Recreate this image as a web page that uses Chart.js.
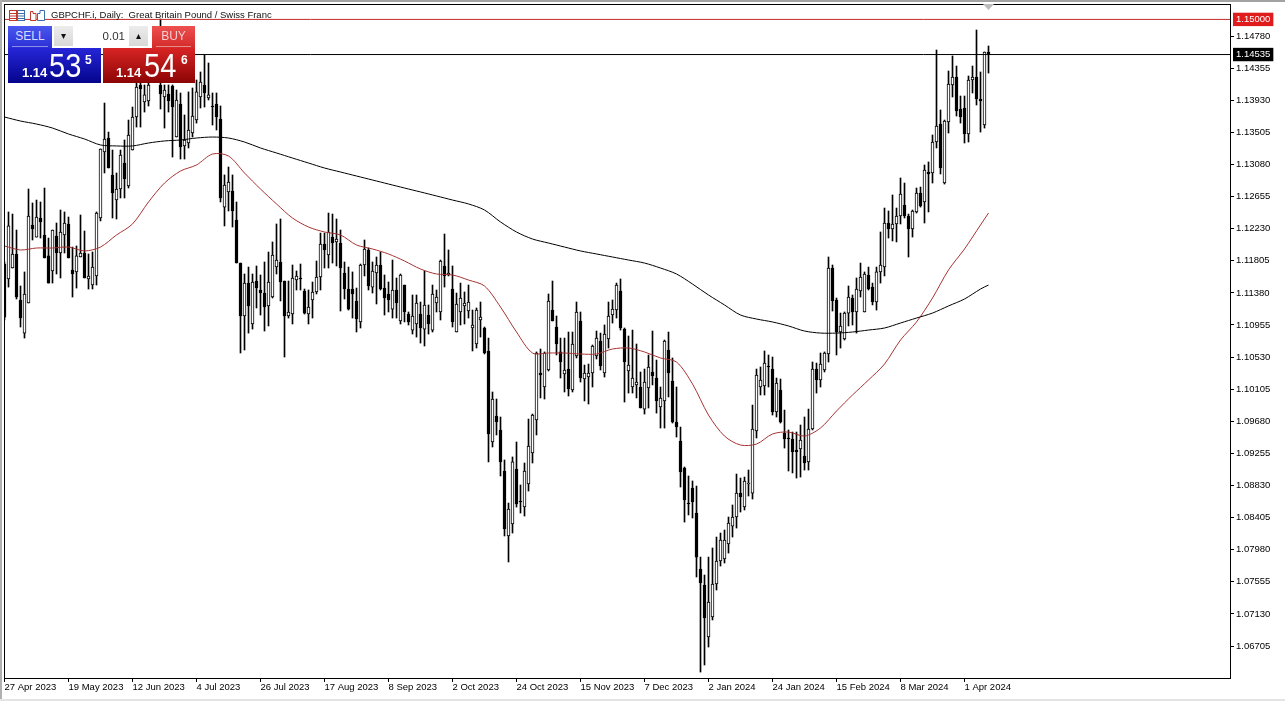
<!DOCTYPE html>
<html>
<head>
<meta charset="utf-8">
<title>GBPCHF Daily</title>
<script src="https://cdn.jsdelivr.net/npm/chart.js@4/dist/chart.umd.js"></script>
<style>
  html, body { margin: 0; padding: 0; background: #fff; overflow: hidden; }
  #wrap { position: relative; width: 1285px; height: 701px; font-family: "Liberation Sans", Arial, sans-serif; }
  canvas { position: absolute; left: 0; top: 0; }
  .abs { position: absolute; }
  #frameTop { left: 0; top: 0; width: 1285px; height: 2px; background: #a3a3a3; }
  #frameLeft { left: 0; top: 0; width: 2px; height: 701px; background: #b0b0b0; }
  #frameBottom { left: 0; top: 699px; width: 1285px; height: 2px; background: #e4e4e4; }
  #title { left: 51px; top: 9px; font-size: 9.5px; line-height: 12px; color: #111; white-space: pre; }
  .btn { top: 26px; height: 22px; color: #f2d0d0; font-size: 12px; line-height: 21px; text-align: center; }
  .btn i { position: absolute; left: 4px; right: 4px; bottom: 1px; height: 1px; background: rgba(255,255,255,0.45); }
  #sell { left: 8px; width: 44px; background: linear-gradient(#4a58ee, #2a2fd6); color: #d8dcff; }
  #buy { left: 152px; width: 43px; background: linear-gradient(#ee5050, #d42a2a); }
  .step { top: 26px; width: 19px; height: 20px; background: linear-gradient(#ececec, #d8d8d8); color: #111; font-size: 10px; line-height: 19px; text-align: center; }
  #lot { left: 73px; top: 26px; width: 52px; height: 20px; padding-right: 4px; background: #fff; color: #333; font-size: 11.5px; line-height: 20px; text-align: right; }
  .quote { top: 48px; height: 35px; color: #fff; }
  #quoteSell { left: 8px; width: 93px; background: linear-gradient(#2626d8, #04048c); }
  #quoteBuy { left: 103px; width: 92px; background: linear-gradient(#d82424, #8c0404); }
  .small { top: 17px; font-size: 13px; line-height: 15px; font-weight: bold; }
  .big { top: 1px; font-size: 33px; line-height: 34px; transform: scaleX(0.88); transform-origin: left top; }
  .sup { top: 6px; font-size: 12px; line-height: 13px; font-weight: bold; }
</style>
</head>
<body>
<div id="wrap">
  <canvas id="priceChart" width="1285" height="701"></canvas>
  <div class="abs" id="frameTop"></div>
  <div class="abs" id="frameLeft"></div>
  <div class="abs" id="frameBottom"></div>

  <!-- header icons and symbol title -->
  <svg class="abs" style="left:9px;top:10px" width="37" height="12">
    <rect x="0.5" y="0.5" width="7" height="10" fill="#fff" stroke="#c0392b"/>
    <rect x="8.5" y="0.5" width="7" height="10" fill="#fff" stroke="#3b6ea8"/>
    <path d="M1 3.5h6M1 6h6M1 8.5h6" stroke="#c0392b"/><path d="M9 3.5h6M9 6h6M9 8.5h6" stroke="#3b6ea8"/>
    <path d="M21.5 1.5h2.5v2h3v7h-5.5z" fill="#fff" stroke="#c0392b"/>
    <path d="M28.5 3.5h2.5v-3h4.5v10h-7z" fill="#fff" stroke="#3b6ea8"/>
  </svg>
  <div class="abs" id="title">GBPCHF.i, Daily:  Great Britain Pound / Swiss Franc</div>

  <!-- grey marker at the top edge -->
  <svg class="abs" style="left:983px;top:4px" width="11" height="6"><path d="M0 0h11L5.5 6z" fill="#bdbdbd"/></svg>

  <!-- one click trading panel -->
  <div class="abs btn" id="sell">SELL<i></i></div>
  <div class="abs step" style="left:54px">&#9662;</div>
  <div class="abs" id="lot">0.01</div>
  <div class="abs step" style="left:129px">&#9652;</div>
  <div class="abs btn" id="buy">BUY<i></i></div>
  <div class="abs quote" id="quoteSell">
    <span class="abs small" style="left:14px">1.14</span>
    <span class="abs big" style="left:41px">53</span>
    <span class="abs sup" style="left:77px">5</span>
  </div>
  <div class="abs quote" id="quoteBuy">
    <span class="abs small" style="left:13px">1.14</span>
    <span class="abs big" style="left:41px">54</span>
    <span class="abs sup" style="left:78px">6</span>
  </div>
</div>

<script>
// Daily candles, one entry per bar, oldest first
const opens = [
  1.11762,1.11564,1.11709,1.11895,1.11286,1.10848,1.11246,1.12279,1.12119,1.12371,
  1.12146,1.11869,1.11670,1.12133,1.11908,1.12146,1.12292,1.11683,1.11657,1.11855,
  1.11908,1.11564,1.11484,1.11604,1.12371,1.13245,1.13430,1.12941,1.12609,1.12755,
  1.13099,1.12795,1.13271,1.13708,1.14132,1.13907,1.13920,1.14264,1.14437,1.14132,
  1.13973,1.14013,1.14119,1.13443,1.13880,1.13325,1.13364,1.13496,1.13668,1.13973,
  1.14132,1.13960,1.13854,1.13880,1.13682,1.12516,1.12716,1.12729,1.12345,1.11775,
  1.11074,1.11510,1.10968,1.11537,1.11418,1.11378,1.11207,1.11325,1.11722,1.11789,
  1.11537,1.11074,1.11100,1.11550,1.11577,1.11405,1.11100,1.11286,1.11392,1.11590,
  1.12027,1.11882,1.12119,1.12054,1.12040,1.11643,1.11431,1.11431,1.11273,1.10995,
  1.11749,1.11948,1.11457,1.11643,1.11749,1.11444,1.11365,1.11166,1.11418,1.11008,
  1.11484,1.11100,1.10888,1.10968,1.11100,1.10901,1.11087,1.10888,1.11246,1.11127,
  1.11736,1.11617,1.11431,1.10862,1.11127,1.11207,1.11140,1.10915,1.10703,1.11021,
  1.10915,1.10611,1.09406,1.09750,1.09565,1.09022,1.08162,1.08320,1.09049,1.08625,
  1.08545,1.08850,1.09260,1.09697,1.10319,1.10134,1.10359,1.11153,1.10928,1.10598,
  1.10306,1.10372,1.10094,1.10545,1.11008,1.10240,1.10266,1.10319,1.10545,1.10743,
  1.10319,1.10769,1.11087,1.11153,1.11405,1.10901,1.10346,1.10134,1.10161,1.10134,
  1.09842,1.10121,1.10333,1.10253,1.09869,1.09949,1.10624,1.10214,1.09671,1.09419,
  1.09062,1.08598,1.08797,1.08466,1.07725,1.07513,1.06825,1.07089,1.07526,1.07831,
  1.07857,1.08056,1.08293,1.08413,1.08730,1.08545,1.08850,1.08730,1.09552,1.10134,
  1.10148,1.10412,1.10372,1.09803,1.10094,1.09525,1.09459,1.09446,1.09300,1.09313,
  1.09221,1.09142,1.09578,1.10372,1.10227,1.10359,1.10571,1.11709,1.11286,1.10862,
  1.10769,1.11113,1.11312,1.11127,1.11405,1.11127,1.11617,1.11457,1.11259,1.11657,
  1.11722,1.12305,1.12226,1.12292,1.12398,1.12543,1.12398,1.12226,1.12451,1.12702,
  1.12583,1.12980,1.12967,1.13377,1.13615,1.12834,1.13642,1.14132,1.14237,1.13814,
  1.13827,1.13483,1.14198,1.14237,1.13946,1.13602,1.14569
];
const highs = [
  1.11789,1.12451,1.12424,1.12212,1.11471,1.11657,1.12755,1.12570,1.12609,1.12583,
  1.12768,1.12106,1.12212,1.12305,1.12477,1.12451,1.12384,1.11987,1.12001,1.12411,
  1.12199,1.11895,1.11921,1.12451,1.13285,1.13893,1.13509,1.13271,1.12967,1.13271,
  1.13404,1.13668,1.13840,1.14304,1.14330,1.14132,1.14264,1.14489,1.14529,1.15005,
  1.14132,1.14132,1.14132,1.14066,1.14026,1.13735,1.14040,1.14092,1.14198,1.14304,
  1.14529,1.14423,1.14026,1.14026,1.13854,1.12941,1.13046,1.12941,1.12583,1.11775,
  1.11630,1.11722,1.11630,1.11736,1.11617,1.11789,1.11921,1.12054,1.12292,1.12358,
  1.11537,1.11537,1.11749,1.11670,1.11762,1.11431,1.11418,1.11524,1.11802,1.12172,
  1.12172,1.12437,1.12424,1.12358,1.12212,1.11789,1.11722,1.11657,1.11444,1.11762,
  1.12080,1.11974,1.11789,1.11855,1.11921,1.11617,1.11524,1.11815,1.11577,1.11630,
  1.11484,1.11127,1.11352,1.11352,1.11259,1.11670,1.11220,1.11484,1.11418,1.11815,
  1.12159,1.11948,1.11736,1.11378,1.11510,1.11392,1.11484,1.11153,1.11180,1.11259,
  1.10928,1.10782,1.10068,1.09975,1.09737,1.09168,1.08598,1.09208,1.09406,1.08837,
  1.09128,1.09710,1.09776,1.10598,1.10637,1.10598,1.11365,1.11537,1.11074,1.10782,
  1.10782,1.10862,1.10862,1.11259,1.11127,1.10425,1.10438,1.10690,1.10875,1.10848,
  1.10955,1.11259,1.11286,1.11510,1.11564,1.10915,1.10809,1.10888,1.10703,1.10333,
  1.10372,1.10558,1.10875,1.10491,1.10134,1.10756,1.10862,1.10518,1.10134,1.09604,
  1.09075,1.08956,1.08890,1.08823,1.07883,1.07645,1.07883,1.08003,1.08148,1.08201,
  1.08241,1.08413,1.08572,1.08982,1.08929,1.08942,1.09035,1.09895,1.10372,1.10399,
  1.10611,1.10558,1.10531,1.10253,1.10240,1.09829,1.09565,1.09538,1.09538,1.09631,
  1.09737,1.09842,1.10465,1.10451,1.10584,1.10598,1.11855,1.11749,1.11312,1.11113,
  1.11127,1.11471,1.11352,1.11577,1.11775,1.11657,1.11722,1.11510,1.11722,1.12186,
  1.12503,1.12464,1.12676,1.12503,1.12901,1.12834,1.12424,1.12477,1.12768,1.12781,
  1.13073,1.13113,1.13470,1.14595,1.13801,1.13668,1.14317,1.14516,1.14383,1.13986,
  1.13986,1.14251,1.14383,1.14860,1.14304,1.14569,1.14648
];
const lows = [
  1.11021,1.11457,1.11709,1.11299,1.10928,1.10782,1.11246,1.12080,1.12119,1.12106,
  1.11842,1.11510,1.11510,1.11630,1.11577,1.11908,1.11842,1.11325,1.11444,1.11855,
  1.11577,1.11431,1.11431,1.11484,1.12332,1.12967,1.13033,1.12371,1.12358,1.12636,
  1.12636,1.12768,1.13271,1.13575,1.13575,1.13774,1.13854,1.14172,1.14198,1.13814,
  1.13562,1.13774,1.13178,1.13443,1.13152,1.13152,1.13298,1.13443,1.13628,1.13827,
  1.13840,1.13933,1.13602,1.13536,1.12583,1.12266,1.12464,1.12252,1.11775,1.10584,
  1.10624,1.10848,1.10901,1.11180,1.11087,1.10875,1.10942,1.11312,1.11630,1.11273,
  1.10531,1.11047,1.10968,1.11418,1.11418,1.11100,1.10968,1.11047,1.11365,1.11418,
  1.11709,1.11709,1.11775,1.11736,1.11140,1.11299,1.11153,1.11047,1.10862,1.10915,
  1.11604,1.11418,1.11378,1.11233,1.11418,1.11087,1.11127,1.11047,1.11047,1.10968,
  1.10995,1.10955,1.10835,1.10795,1.10716,1.10677,1.10835,1.10862,1.11127,1.11021,
  1.11457,1.11604,1.10928,1.10862,1.10955,1.10968,1.11047,1.10611,1.10650,1.10795,
  1.10571,1.09142,1.09340,1.09499,1.08956,1.08162,1.07818,1.08201,1.08545,1.08466,
  1.08426,1.08757,1.09128,1.09499,1.09989,1.09975,1.10346,1.11008,1.10558,1.10253,
  1.10068,1.10015,1.10068,1.10518,1.10200,1.09949,1.09909,1.10134,1.10505,1.10359,
  1.10266,1.10650,1.10981,1.11047,1.10888,1.09935,1.10054,1.10054,1.09989,1.09856,
  1.09776,1.09856,1.10161,1.09789,1.09591,1.09591,1.10002,1.09657,1.09472,1.08810,
  1.08346,1.08440,1.08400,1.07619,1.06361,1.06454,1.06692,1.07050,1.07447,1.07764,
  1.07804,1.07936,1.08148,1.08267,1.08479,1.08506,1.08691,1.08651,1.09459,1.10028,
  1.10028,1.10134,1.09763,1.09737,1.09657,1.09326,1.09022,1.08996,1.08929,1.08942,
  1.09035,1.09035,1.09565,1.10054,1.10134,1.10333,1.10465,1.11140,1.10558,1.10650,
  1.10756,1.10942,1.10955,1.10848,1.11325,1.11127,1.11418,1.11220,1.11153,1.11510,
  1.11604,1.12106,1.12067,1.12054,1.12292,1.12371,1.11855,1.12119,1.12437,1.12516,
  1.12305,1.12451,1.12834,1.13298,1.12954,1.12821,1.13496,1.13973,1.13721,1.13628,
  1.13364,1.13377,1.14026,1.13867,1.13509,1.13562,1.14290
];
const closes = [
  1.11060,1.12266,1.11895,1.11325,1.11047,1.11365,1.12398,1.12226,1.12384,1.12319,
  1.11842,1.11510,1.12212,1.11908,1.12186,1.12305,1.11842,1.11630,1.11869,1.11908,
  1.11577,1.11604,1.11722,1.12437,1.13285,1.13417,1.13033,1.12702,1.12755,1.13205,
  1.12887,1.13470,1.13708,1.14105,1.14079,1.14000,1.14132,1.14397,1.14304,1.14013,
  1.14066,1.13920,1.13840,1.13933,1.13311,1.13404,1.13536,1.13721,1.14040,1.14172,
  1.14026,1.14000,1.13840,1.13708,1.12636,1.12808,1.12848,1.12464,1.11775,1.11074,
  1.11510,1.11207,1.11524,1.11444,1.11378,1.11193,1.11524,1.11882,1.11815,1.11524,
  1.11074,1.11127,1.11577,1.11604,1.11564,1.11113,1.11193,1.11392,1.11590,1.12027,
  1.11948,1.12186,1.12040,1.12093,1.11709,1.11431,1.11166,1.11365,1.11034,1.11749,
  1.11961,1.11471,1.11670,1.11749,1.11431,1.11312,1.11286,1.11418,1.11246,1.11617,
  1.11127,1.10995,1.11074,1.11246,1.10915,1.11220,1.10968,1.11365,1.11325,1.11802,
  1.11604,1.11643,1.10995,1.11233,1.11312,1.11246,1.11259,1.10955,1.11153,1.11061,
  1.10584,1.09512,1.09975,1.09671,1.09142,1.08254,1.08519,1.09142,1.08585,1.08612,
  1.09022,1.09353,1.09763,1.10584,1.10293,1.10584,1.11273,1.11008,1.10703,1.10465,
  1.10359,1.10108,1.10703,1.11127,1.10253,1.10319,1.10319,1.10677,1.10782,1.10412,
  1.10835,1.11074,1.11166,1.11484,1.10915,1.10465,1.10425,1.10253,1.10200,1.09856,
  1.10200,1.10399,1.10280,1.09949,1.09989,1.10743,1.10319,1.09671,1.09604,1.09009,
  1.08638,1.08585,1.08612,1.07883,1.07539,1.07076,1.07288,1.07526,1.07831,1.08109,
  1.08109,1.08333,1.08413,1.08730,1.08678,1.08890,1.08863,1.09578,1.10293,1.10227,
  1.10451,1.10399,1.09803,1.10187,1.09671,1.09446,1.09446,1.09274,1.09274,1.09432,
  1.09128,1.09578,1.10372,1.10227,1.10438,1.10584,1.11709,1.11273,1.10862,1.10942,
  1.11113,1.11325,1.11127,1.11431,1.11590,1.11630,1.11431,1.11259,1.11657,1.11749,
  1.12305,1.12226,1.12292,1.12398,1.12689,1.12398,1.12226,1.12464,1.12702,1.12530,
  1.13007,1.12954,1.13377,1.13589,1.13033,1.13655,1.14145,1.14237,1.13788,1.13708,
  1.13483,1.14198,1.14237,1.13946,1.13920,1.14569,1.14542
];

// Moving averages at these bars
const maBars = [
  0,4,8,12,16,20,24,28,32,36,40,44,48,52,56,60,64,68,72,76,80,84,88,92,96,100,
  104,108,112,116,120,124,128,132,136,140,144,148,152,156,160,164,168,172,176,
  180,184,188,192,196,200,204,208,212,216,220,224,228,232,236,240,244,246
];
const maSlow = [
  1.13708,1.13655,1.13615,1.13562,1.13483,1.13417,1.13338,1.13325,1.13325,1.13364,
  1.13391,1.13404,1.13430,1.13443,1.13430,1.13377,1.13298,1.13232,1.13165,1.13099,
  1.13033,1.12980,1.12927,1.12874,1.12821,1.12768,1.12716,1.12663,1.12609,1.12557,
  1.12477,1.12319,1.12186,1.12093,1.12040,1.11987,1.11935,1.11895,1.11855,1.11815,
  1.11775,1.11709,1.11630,1.11497,1.11352,1.11220,1.11087,1.11034,1.10995,1.10942,
  1.10875,1.10848,1.10848,1.10862,1.10888,1.10915,1.10981,1.11047,1.11113,1.11207,
  1.11299,1.11431,1.11484
];
const maFast = [
  1.12001,1.11948,1.11974,1.11974,1.11987,1.11935,1.11987,1.12146,1.12292,1.12583,
  1.12834,1.12993,1.13073,1.13218,1.13192,1.12967,1.12755,1.12557,1.12371,1.12252,
  1.12186,1.12146,1.12014,1.11961,1.11895,1.11802,1.11696,1.11630,1.11617,1.11550,
  1.11471,1.11193,1.10862,1.10584,1.10584,1.10584,1.10571,1.10571,1.10637,1.10650,
  1.10598,1.10518,1.10465,1.10174,1.09763,1.09485,1.09366,1.09379,1.09512,1.09538,
  1.09485,1.09591,1.09816,1.10028,1.10227,1.10438,1.10756,1.10995,1.11312,1.11683,
  1.11961,1.12279,1.12437
];

// Axis labels
const dateLabels = [
  '27 Apr 2023','19 May 2023','12 Jun 2023','4 Jul 2023','26 Jul 2023','17 Aug 2023',
  '8 Sep 2023','2 Oct 2023','24 Oct 2023','15 Nov 2023','7 Dec 2023','2 Jan 2024',
  '24 Jan 2024','15 Feb 2024','8 Mar 2024','1 Apr 2024'
];
const dateBars = [0,16,32,48,64,80,96,112,128,144,160,176,192,208,224,240];
const priceTicks = [
  1.14780,1.14355,1.13930,1.13505,1.13080,1.12655,1.12230,1.11805,1.11380,1.10955,
  1.10530,1.10105,1.09680,1.09255,1.08830,1.08405,1.07980,1.07555,1.07130,1.06705
];
const targetLevel = 1.15000;
const lastPrice = 1.14535;

const xMin = -0.125, xMax = 306.375;
const yMin = 1.06282, yMax = 1.15204;

const bars = opens.map((o, i) => i);
const isMark = v => v === targetLevel ? 'red' : (v === lastPrice ? 'black' : null);

// left and top edges of the plot, the scales only draw the other two
const plotFrame = {
  id: 'plotFrame',
  afterDraw(chart) {
    const { ctx, chartArea: a } = chart;
    ctx.save();
    ctx.strokeStyle = '#000';
    ctx.lineWidth = 1;
    ctx.strokeRect(a.left + 0.5, a.top + 0.5, a.right - a.left, a.bottom - a.top);
    ctx.restore();
  }
};

new Chart(document.getElementById('priceChart').getContext('2d'), {
  type: 'bar',
  data: {
    datasets: [
      {
        type: 'line', label: 'target', order: 0,
        data: [{ x: xMin, y: targetLevel }, { x: xMax, y: targetLevel }],
        borderColor: '#c42a2a', borderWidth: 1, pointRadius: 0
      },
      {
        type: 'line', label: 'last', order: 0,
        data: [{ x: xMin, y: lastPrice }, { x: xMax, y: lastPrice }],
        borderColor: '#000', borderWidth: 1, pointRadius: 0
      },
      {
        type: 'line', label: 'MA slow', order: 0,
        data: maBars.map((b, i) => ({ x: b, y: maSlow[i] })),
        borderColor: '#000', borderWidth: 1, pointRadius: 0, tension: 0.3
      },
      {
        type: 'line', label: 'MA fast', order: 0,
        data: maBars.map((b, i) => ({ x: b, y: maFast[i] })),
        borderColor: '#a83232', borderWidth: 1, pointRadius: 0, tension: 0.3
      },
      {
        label: 'body', order: 1, grouped: false, barThickness: 3,
        data: bars.map(i => ({ x: i, y: [opens[i], closes[i]] })),
        backgroundColor: bars.map(i => closes[i] >= opens[i] ? '#fff' : '#000'),
        borderColor: '#000', borderWidth: 1, borderSkipped: false
      },
      {
        label: 'wick', order: 2, grouped: false, barThickness: 1,
        data: bars.map(i => ({ x: i, y: [lows[i], highs[i]] })),
        backgroundColor: '#000'
      }
    ]
  },
  options: {
    responsive: false,
    animation: false,
    devicePixelRatio: 1,
    layout: { padding: { left: 4, top: 4, right: 0, bottom: 0 } },
    plugins: { legend: { display: false }, tooltip: { enabled: false } },
    scales: {
      x: {
        type: 'linear', min: xMin, max: xMax, offset: false,
        grid: { drawOnChartArea: false, tickLength: 4, tickColor: '#000', offset: false },
        border: { color: '#000' },
        afterBuildTicks: scale => { scale.ticks = dateBars.map(v => ({ value: v })); },
        afterFit: scale => { scale.height = 23; scale.paddingLeft = 0; scale.paddingRight = 0; },
        ticks: {
          autoSkip: false, maxRotation: 0, align: 'start', padding: 0, color: '#000',
          font: { family: '"Liberation Sans", Arial, sans-serif', size: 9.5 },
          callback: v => dateLabels[dateBars.indexOf(v)]
        }
      },
      y: {
        type: 'linear', position: 'right', min: yMin, max: yMax, beginAtZero: false,
        grid: {
          drawOnChartArea: false, tickLength: 4,
          tickColor: c => isMark(c.tick.value) ? 'rgba(0,0,0,0)' : '#000'
        },
        border: { color: '#000' },
        afterBuildTicks: scale => {
          scale.ticks = [targetLevel, lastPrice].concat(priceTicks).map(v => ({ value: v }));
        },
        afterFit: scale => { scale.width = 55; scale.paddingTop = 0; scale.paddingBottom = 0; },
        ticks: {
          autoSkip: false, padding: 2,
          font: { family: '"Liberation Sans", Arial, sans-serif', size: 9.5 },
          color: c => isMark(c.tick.value) ? '#fff' : '#000',
          showLabelBackdrop: c => !!isMark(c.tick.value),
          backdropColor: c => isMark(c.tick.value) === 'red' ? '#e01b1b' : '#000',
          backdropPadding: { left: 3, right: 3, top: 1, bottom: 1 },
          callback: v => v.toFixed(5)
        }
      }
    }
  },
  plugins: [plotFrame]
});
</script>
</body>
</html>
